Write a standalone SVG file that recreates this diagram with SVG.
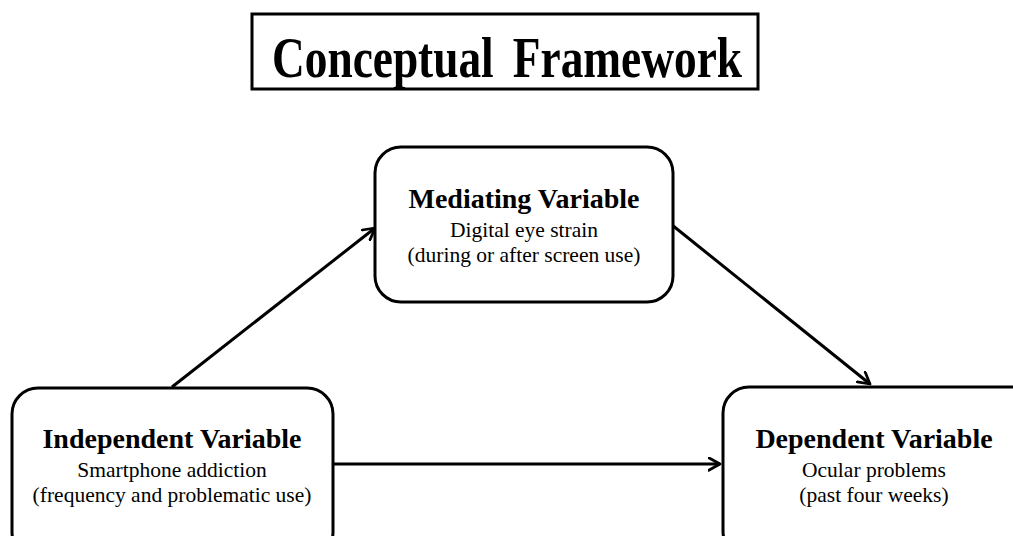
<svg xmlns="http://www.w3.org/2000/svg" width="1013" height="536" viewBox="0 0 1013 536">
<style>
.box{fill:#fff;stroke:#000;stroke-width:3}
.t{font-family:"Liberation Serif","Times New Roman",serif;fill:#000;text-anchor:middle}
.h{font-weight:bold;font-size:28px}
.s{font-size:21.5px}
.conn line{stroke:#000;stroke-width:3;marker-end:url(#ah)}
</style>
<defs>
<marker id="ah" viewBox="0 0 12 12" refX="10" refY="6" markerWidth="5" markerHeight="5" orient="auto" markerUnits="strokeWidth">
<path d="M1,1 L10,6 L1,11" fill="none" stroke="#000" stroke-width="2.2" stroke-linecap="round" stroke-linejoin="round"/>
</marker>
</defs>
<rect width="1013" height="536" fill="#fff"/>
<g id="title">
<rect x="252" y="14" width="506" height="75" fill="#fff" stroke="#000" stroke-width="3"/>
<text class="t" x="507" y="77" font-weight="bold" font-size="58" word-spacing="10" textLength="470" lengthAdjust="spacingAndGlyphs">Conceptual Framework</text>
</g>
<g id="connectors" class="conn">
<line x1="172" y1="387" x2="375" y2="228"/>
<line x1="672" y1="225" x2="870" y2="384"/>
<line x1="333" y1="464" x2="720" y2="464"/>
</g>
<g id="mediating">
<rect class="box" x="375" y="147" width="298" height="155" rx="26"/>
<text class="t h" x="524" y="208">Mediating Variable</text>
<text class="t s" x="524" y="237">Digital  eye strain</text>
<text class="t s" x="524" y="262">(during or after screen use)</text>
</g>
<g id="independent">
<rect class="box" x="12" y="388" width="321" height="170" rx="26"/>
<text class="t h" x="172" y="448">Independent Variable</text>
<text class="t s" x="172" y="477">Smartphone addiction</text>
<text class="t s" x="172" y="502">(frequency and problematic  use)</text>
</g>
<g id="dependent">
<rect class="box" x="723" y="387" width="320" height="170" rx="26"/>
<text class="t h" x="874" y="448">Dependent Variable</text>
<text class="t s" x="874" y="477">Ocular problems</text>
<text class="t s" x="874" y="502">(past four weeks)</text>
</g>
</svg>
